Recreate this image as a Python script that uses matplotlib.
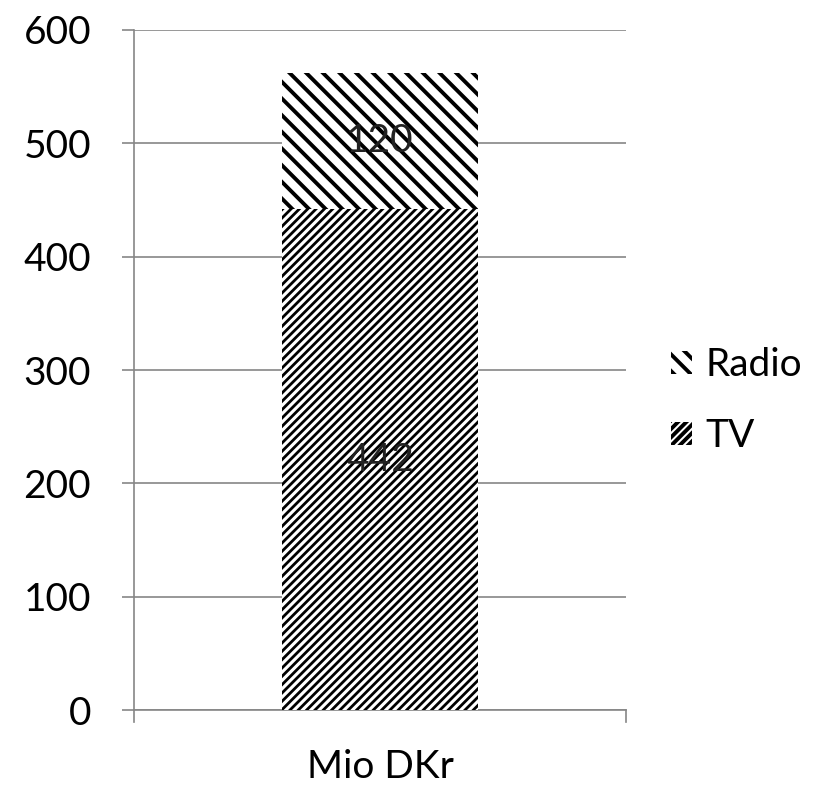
import matplotlib.pyplot as plt

categories = ['Mio DKr']
tv = [442]
radio = [120]
yticks = [0, 100, 200, 300, 400, 500, 600]

plt.rcParams['font.family'] = ['Lato', 'DejaVu Sans']
grey = '#868686'
fs = 28

fig = plt.figure(figsize=(8.38, 7.89), dpi=100)
ax = fig.add_axes([0.160, 0.100, 0.587, 0.862])

w = 0.4
plt.rcParams['hatch.linewidth'] = 2.0
b1 = ax.bar(categories, tv, width=w, color='white', edgecolor='black', linewidth=0, hatch='////', label='TV', zorder=3)
plt.rcParams['hatch.linewidth'] = 2.8
b2 = ax.bar(categories, radio, bottom=tv, width=w, color='white', edgecolor='black', linewidth=0, hatch='\\\\', label='Radio', zorder=3)

ax.bar_label(b1, labels=[str(v) for v in tv], label_type='center', fontsize=fs, color='#222222', zorder=5)
ax.bar_label(b2, labels=[str(v) for v in radio], label_type='center', fontsize=fs, color='#222222', zorder=5)

ax.set_xlim(-0.5, 0.5)
ax.set_ylim(0, 600)
ax.set_yticks(yticks)
ax.yaxis.grid(True, color=grey, linewidth=1.2, zorder=0)
ax.set_axisbelow(True)
for s in ['top', 'right']:
    ax.spines[s].set_visible(False)
for s in ['left', 'bottom']:
    ax.spines[s].set_color(grey)
    ax.spines[s].set_linewidth(1.2)
ax.tick_params(axis='y', length=9, width=1.2, color=grey, labelsize=fs, pad=22)
ax.tick_params(axis='x', length=0, labelsize=fs, pad=28)
# little tick marks at both ends of the category axis
for xe in [-0.5, 0.5]:
    ax.plot([xe, xe], [0, -0.018], transform=ax.get_xaxis_transform(), color=grey, lw=1.2, clip_on=False)

handles, labels = ax.get_legend_handles_labels()
ax.legend(handles[::-1], labels[::-1], loc='center left', bbox_to_anchor=(1.02, 0.455),
          frameon=False, fontsize=fs, handlelength=0.55, handleheight=0.55,
          handletextpad=0.35, labelspacing=0.9)

plt.savefig('out.png', dpi=100)
